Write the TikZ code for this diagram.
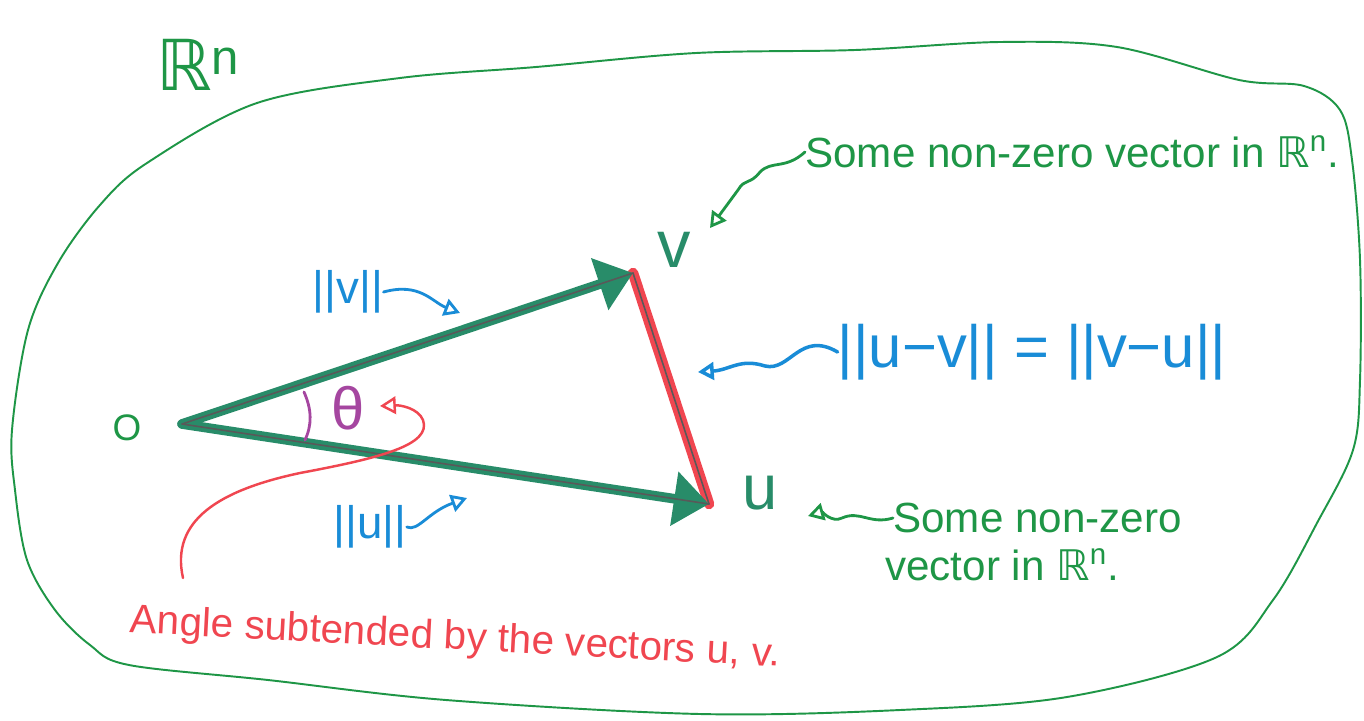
\documentclass[tikz,border=0pt]{standalone}
\usepackage{fontspec}
\setmainfont{Liberation Sans}
\newfontfamily\djv{DejaVu Sans}
\usetikzlibrary{arrows.meta}
\definecolor{pgreen}{RGB}{30,150,70}
\definecolor{vgreen}{RGB}{40,140,105}
\definecolor{pblue}{RGB}{25,140,215}
\definecolor{pred}{RGB}{240,70,80}
\definecolor{ppurple}{RGB}{165,70,160}
\newcommand{\RRn}{{\djv ℝ}\textsuperscript{n}}
\newcommand{\myfs}[2]{\fontsize{#1}{#2}\selectfont}
\begin{document}
\begin{tikzpicture}[x=0.02cm,y=-0.02cm, line cap=round, line join=round,
  lbl/.style={inner sep=0pt},
  vecline/.style={vgreen, line width=5.5pt, -{Triangle[length=20pt,width=30pt]}},
  core/.style={black!65, line width=0.9pt},
  boundary/.style={pgreen, line width=1.1pt},
  note/.style={line width=1.6pt, -{Triangle[open,length=9pt,width=10pt]}}]
\useasboundingbox (0,0) rectangle (1364,720);
\fill[white] (0,0) rectangle (1364,720);

% boundary of R^n
\draw[boundary] plot[smooth cycle, tension=0.55] coordinates {
  (12,430) (28,330) (58,263) (100,205) (147,163) (257,103) (400,78)
  (536,67) (696,53) (855,50) (1000,42) (1117,47) (1239,80) (1304,86)
  (1340,110) (1352,160) (1360,260) (1360,380) (1353,450) (1317,523)
  (1273,600) (1217,657) (1067,697) (900,710) (700,714) (446,700)
  (268,680) (129,665) (90,645) (55,610) (27,560) (15,490)};

% vertices
\coordinate (O) at (182,424);
\coordinate (V) at (633,273);
\coordinate (U) at (709,504);

% difference segment
\draw[pred, line width=6pt] (V) -- (U);
\draw[core] (V) -- (U);

% vectors
\draw[vecline] (O) -- (V);
\draw[vecline] (O) -- (U);
\draw[core] (O) -- (V);
\draw[core] (O) -- (U);

% angle mark
\draw[ppurple, line width=1.6pt] (304,392) .. controls (312,410) and (312,425) .. (305,440);

% labels
\node[lbl, pgreen, font=\myfs{21}{24}] (olab) at (127,428) {O};
\node[lbl, pgreen, font=\myfs{40}{44}] (rn) at (198,65) {\RRn};
\node[lbl, vgreen, font=\myfs{38}{40}] (vlab) at (674,250) {v};
\node[lbl, vgreen, font=\myfs{36}{40}] (ulab) at (760,493) {u};
\node[lbl, pblue, font=\myfs{26}{28}] (nv) at (348,292) {||v||};
\node[lbl, pblue, font=\myfs{26}{28}] (nu) at (370,527) {||u||};
\node[lbl, ppurple, font=\myfs{34}{36}] (th) at (348,408) {θ};
\node[lbl, pblue, font=\myfs{34}{36}] (dist) at (1032,352) {||u−v|| = ||v−u||};
\node[lbl, pgreen, font=\myfs{24}{27}, anchor=west] (vdesc) at (805,152) {Some non-zero vector in \RRn.};
\node[lbl, pgreen, font=\myfs{24}{27}, anchor=west] (ud1) at (893,518) {Some non-zero};
\node[lbl, pgreen, font=\myfs{24}{27}, anchor=west] (ud2) at (885,565) {vector in \RRn.};
\node[lbl, pred, font=\myfs{23}{26}, anchor=west, rotate=-3] (ang) at (130,622) {Angle subtended by the vectors u, v.};

% annotation arrows
\coordinate (vnote) at (460,313);
\coordinate (unote) at (467,498);
\coordinate (uvmid) at (698,372);
\coordinate (vnote2) at (710,228);
\coordinate (unote2) at (808,516);
\coordinate (redstart) at (183,578);
\coordinate (thnote) at (380,406);

\draw[note, pblue] (nv.east) .. controls (420,282) and (432,302) .. (vnote);
\draw[note, pblue] (nu.east) .. controls (418,532) and (428,512) .. (unote);
\draw[note, pblue, line width=2pt] (dist.west) .. controls (800,330) and (790,372) .. (765,366)
   .. controls (740,358) and (730,370) .. (uvmid);
\draw[note, pgreen] (vdesc.west) .. controls (785,170) and (772,160) .. (760,172)
   .. controls (750,185) and (745,178) .. (738,190) -- (vnote2);
\draw[note, pgreen] (ud1.west) .. controls (870,525) and (860,510) .. (842,518)
   .. controls (832,523) and (822,512) .. (unote2);
\draw[note, pred, line width=1.4pt] (redstart) .. controls (170,520) and (220,490) .. (300,473)
   .. controls (380,458) and (432,445) .. (423,420) .. controls (418,408) and (400,405) .. (thnote);
\end{tikzpicture}
\end{document}
